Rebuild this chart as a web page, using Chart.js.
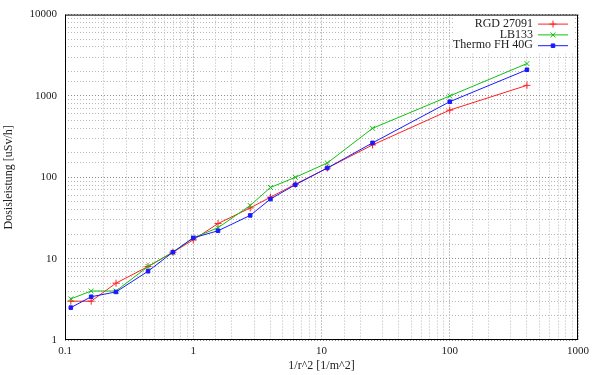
<!DOCTYPE html>
<html>
<head>
<meta charset="utf-8">
<script src="https://cdn.jsdelivr.net/npm/chart.js@4"></script>
<style>
  html, body { margin: 0; padding: 0; background: #fff; }
  #wrap { width: 600px; height: 375px; }
</style>
</head>
<body>
<div id="wrap"><canvas id="doseChart"></canvas></div>
<script>
// 1/r^2 values for the measured distances
const invR2 = [0.111, 0.16, 0.25, 0.444, 0.694, 1, 1.56, 2.78, 4, 6.25, 11.1, 25, 100, 400];
const rgd27091 = [3.0, 3.0, 5.0, 8.0, 12, 17, 27, 42, 57, 82, 130, 250, 670, 1350];
const lb133 = [3.2, 4.0, 4.0, 8.0, 12, 18, 24, 45, 75, 100, 150, 400, 1000, 2500];
const thermoFH40G = [2.5, 3.4, 3.9, 7.0, 12, 18, 22, 34, 54, 81, 130, 265, 850, 2100];
const seriesNames = ['RGD 27091', 'LB133', 'Thermo FH 40G'];
const seriesColors = ['#ff2020', '#10c010', '#1a1aff'];
const majorTicks = [0.1, 1, 10, 100, 1000, 10000];

const FONT = '"Liberation Serif", "DejaVu Serif", serif';

const toPoints = arr => arr.map((v, i) => ({ x: invR2[i], y: v }));
const isMajor = v => majorTicks.some(m => Math.abs(v - m) < m * 1e-6);

const gridColor = ctx => isMajor(ctx.tick.value) ? '#8c8c8c' : '#b8b8b8';

// frame + gnuplot-style key drawn on top
const framePlugin = {
    id: 'frame',
    afterDatasetsDraw(chart) {
        const { ctx, chartArea: a } = chart;
        ctx.save();
        // key background
        ctx.fillStyle = '#fff';
        ctx.fillRect(454, a.top + 1, a.right - 454 - 5, 38);
        ctx.font = '12px ' + FONT;
        ctx.textAlign = 'right';
        ctx.textBaseline = 'middle';
        chart.data.datasets.forEach((ds, i) => {
            const y = a.top + 9 + i * 10.8;
            ctx.fillStyle = '#222';
            ctx.fillText(ds.label, 533, y);
            ctx.strokeStyle = ds.borderColor;
            ctx.lineWidth = 1;
            ctx.beginPath();
            ctx.moveTo(538, y + 0.5);
            ctx.lineTo(568, y + 0.5);
            ctx.stroke();
            ctx.fillStyle = ds.pointBackgroundColor;
            Chart.helpers.drawPoint(ctx, {
                pointStyle: ds.pointStyle,
                radius: ds.pointRadius,
                borderWidth: 1
            }, 553, y + 0.5);
        });
        // frame
        ctx.strokeStyle = '#000';
        ctx.lineWidth = 1;
        ctx.strokeRect(a.left + 0.5, a.top + 0.5, a.right - a.left - 1, a.bottom - a.top - 1);
        ctx.restore();
    }
};

const datasets = [rgd27091, lb133, thermoFH40G].map((arr, i) => ({
    label: seriesNames[i],
    data: toPoints(arr),
    borderColor: seriesColors[i],
    backgroundColor: seriesColors[i],
    pointBackgroundColor: i === 2 ? seriesColors[i] : 'rgba(0,0,0,0)',
    pointBorderColor: seriesColors[i],
    pointStyle: ['cross', 'crossRot', 'rect'][i],
    pointRadius: [3.5, 3.5, 2.5][i],
    pointBorderWidth: 1,
    borderWidth: 1,
    fill: false,
    tension: 0,
    order: 3 - i
}));

new Chart(document.getElementById('doseChart'), {
    type: 'line',
    data: { datasets },
    options: {
        responsive: true,
        maintainAspectRatio: false,
        animation: false,
        layout: { padding: { top: 13, right: 22, left: 0, bottom: 0 } },
        plugins: {
            legend: { display: false },
            tooltip: { enabled: false }
        },
        scales: {
            x: {
                type: 'logarithmic',
                min: 0.1,
                max: 1000,
                afterFit: s => { s.height = 35; },
                grid: {
                    color: gridColor,
                    lineWidth: 1,
                    drawTicks: false
                },
                border: { display: false, dash: [1, 2] },
                ticks: {
                    autoSkip: false,
                    maxRotation: 0,
                    padding: 5,
                    color: '#222',
                    font: { family: FONT, size: 11 },
                    callback: v => isMajor(v) ? String(v) : ''
                },
                title: {
                    display: true,
                    text: '1/r^2 [1/m^2]',
                    color: '#222',
                    font: { family: FONT, size: 12 },
                    padding: { top: 0, bottom: 2 }
                }
            },
            y: {
                type: 'logarithmic',
                min: 1,
                max: 10000,
                afterFit: s => { s.width = 65; },
                grid: {
                    color: gridColor,
                    lineWidth: 1,
                    drawTicks: false
                },
                border: { display: false, dash: [1, 2] },
                ticks: {
                    autoSkip: false,
                    padding: 8,
                    color: '#222',
                    font: { family: FONT, size: 11 },
                    callback: v => isMajor(v) ? String(v) : ''
                },
                title: {
                    display: true,
                    text: 'Dosisleistung [uSv/h]',
                    color: '#222',
                    font: { family: FONT, size: 12 },
                    padding: { top: 2, bottom: 0 }
                }
            }
        }
    },
    plugins: [framePlugin]
});
</script>
</body>
</html>
